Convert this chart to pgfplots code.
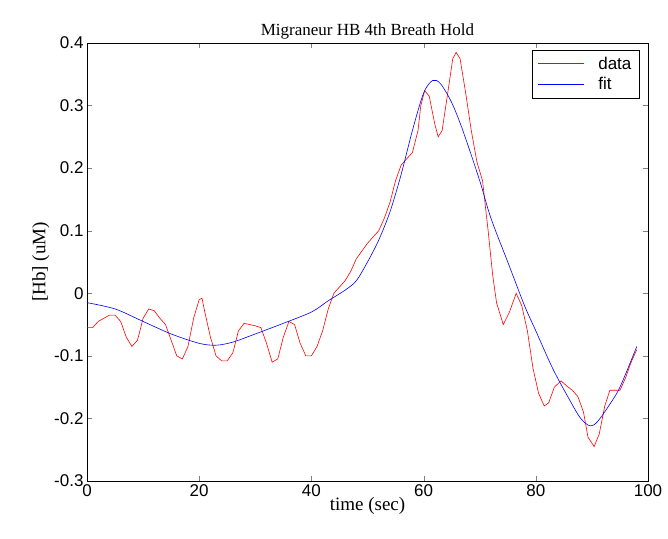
\documentclass[border=0pt]{standalone}
\usepackage{pgfplots}
\pgfplotsset{compat=1.18}
\usepackage{fontspec}
\setmainfont{Liberation Serif}
\newfontfamily\arial{Liberation Sans}
\begin{document}
\begin{tikzpicture}
\begin{axis}[
 name=ax,
 scale only axis, width=561pt, height=438pt,
 xmin=0, xmax=100, ymin=-0.3, ymax=0.4,
 xtick={0,20,...,100}, ytick={-0.3,-0.2,...,0.4},
 tick align=inside, tick pos=both, major tick length=5pt,
 yticklabel style={/pgf/number format/fixed,/pgf/number format/precision=1},
 /pgf/number format/assume math mode=true,
 ticklabel style={font=\arial\fontsize{17}{17}\selectfont},
 title={Migraneur HB 4th Breath Hold}, title style={font=\fontsize{17}{17}\selectfont, yshift=-6pt},
 xlabel={time (sec)}, ylabel={[Hb] (uM)},
 label style={font=\fontsize{19}{19}\selectfont},
 xlabel style={yshift=6pt}, ylabel style={yshift=-2pt},
 legend style={at={(0.985,0.985)},anchor=north east,draw=black,legend cell align=left,
   row sep=3pt, inner xsep=6pt, inner ysep=5pt, nodes={font=\arial\fontsize{17}{17}\selectfont},
   /tikz/every odd column/.append style={column sep=12pt}},
 legend image code/.code={\draw[#1] (-0.6cm,0cm) -- (1.0cm,0cm);},
]
\addplot[red, semithick] coordinates {
(0,-0.055)(1,-0.055)(2,-0.045)(3,-0.04)(4,-0.035)(5,-0.035)(6,-0.045)(7,-0.07)(8,-0.085)(9,-0.075)(10,-0.04)(11,-0.025)(12,-0.028)(13,-0.04)(14,-0.05)(15,-0.075)(16,-0.1)(17,-0.105)(18,-0.085)(19,-0.04)(20,-0.01)(20.5,-0.008)(21,-0.03)(22,-0.07)(23,-0.1)(24,-0.108)(25,-0.108)(26,-0.095)(27,-0.06)(28,-0.048)(29,-0.05)(30,-0.052)(31,-0.055)(32,-0.08)(33,-0.11)(34,-0.105)(35,-0.07)(36,-0.045)(37,-0.05)(38,-0.08)(39,-0.1)(40,-0.1)(41,-0.085)(42,-0.06)(43,-0.025)(44,0.0)(45,0.01)(46,0.02)(47,0.035)(48,0.055)(50,0.08)(52,0.1)(53,0.12)(54,0.145)(55,0.18)(56,0.205)(57,0.215)(58,0.225)(59,0.26)(59.5,0.3)(60.2,0.324)(61,0.315)(62,0.27)(62.6,0.25)(63.3,0.26)(64.3,0.32)(65.2,0.375)(65.8,0.385)(66.5,0.375)(67.5,0.32)(68.5,0.26)(69.5,0.21)(70.5,0.18)(71.5,0.1)(72.3,0.03)(73,-0.015)(74.2,-0.05)(75.3,-0.03)(76.5,0.0)(77.5,-0.02)(78.5,-0.06)(79.5,-0.12)(80.5,-0.16)(81.5,-0.18)(82.3,-0.175)(83.3,-0.15)(84.5,-0.14)(85.5,-0.148)(86.5,-0.155)(87.5,-0.165)(88.5,-0.19)(89.3,-0.23)(90.4,-0.245)(91.3,-0.225)(92.3,-0.18)(93.2,-0.155)(95,-0.155)(96,-0.135)(97,-0.11)(98,-0.09)};
\addlegendentry{data}
\addplot[blue, semithick, smooth] coordinates {
(0,-0.015)(5,-0.025)(10,-0.045)(15,-0.065)(20,-0.08)(23,-0.083)(26,-0.078)(30,-0.065)(35,-0.048)(40,-0.03)(43,-0.012)(46,0.005)(48,0.02)(50,0.05)(52,0.085)(54,0.13)(56,0.19)(58,0.26)(60,0.32)(61.6,0.34)(63,0.335)(65,0.305)(67,0.26)(70,0.18)(72,0.12)(75,0.05)(78,-0.02)(80,-0.06)(83,-0.12)(86,-0.17)(88,-0.2)(89.7,-0.212)(91,-0.205)(93,-0.18)(95,-0.15)(98,-0.085)};
\addlegendentry{fit}
\end{axis}
\path (ax.south west)++(-87pt,-58pt) (ax.north east)++(20pt,43pt);
\end{tikzpicture}
\end{document}
